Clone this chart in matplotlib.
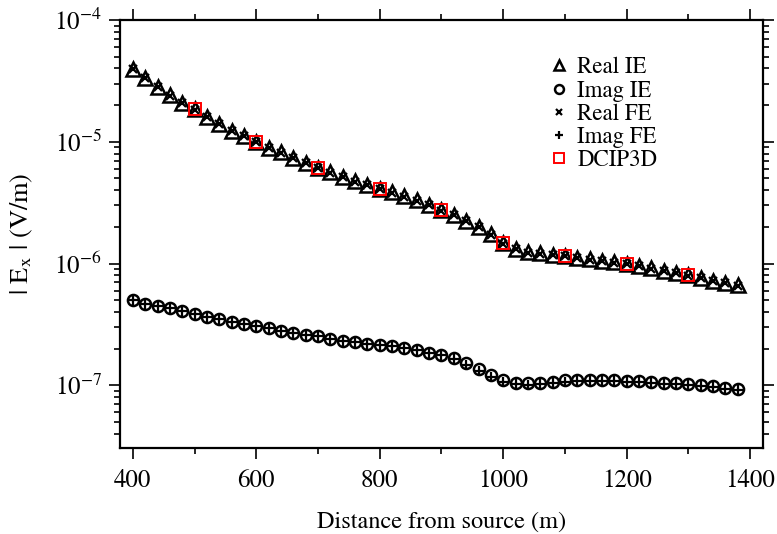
import matplotlib
matplotlib.use('Agg')
import matplotlib.pyplot as plt
from matplotlib.ticker import MultipleLocator, LogLocator, NullFormatter

plt.rcParams['font.family'] = 'STIXGeneral'
plt.rcParams['mathtext.fontset'] = 'stix'

# Distance along the profile (m)
distance = [400, 420, 440, 460, 480, 500, 520, 540, 560, 580,
            600, 620, 640, 660, 680, 700, 720, 740, 760, 780,
            800, 820, 840, 860, 880, 900, 920, 940, 960, 980,
            1000, 1020, 1040, 1060, 1080, 1100, 1120, 1140, 1160, 1180,
            1200, 1220, 1240, 1260, 1280, 1300, 1320, 1340, 1360, 1380]

# |Ex| real part, integral equation
real_ie = [3.97e-5, 3.33e-5, 2.84e-5, 2.40e-5, 2.10e-5, 1.85e-5, 1.61e-5, 1.40e-5, 1.23e-5, 1.12e-5,
           9.94e-6, 8.88e-6, 8.17e-6, 7.35e-6, 6.69e-6, 6.09e-6, 5.60e-6, 5.14e-6, 4.73e-6, 4.42e-6,
           4.10e-6, 3.84e-6, 3.56e-6, 3.30e-6, 3.05e-6, 2.74e-6, 2.51e-6, 2.24e-6, 2.00e-6, 1.75e-6,
           1.46e-6, 1.32e-6, 1.24e-6, 1.21e-6, 1.18e-6, 1.16e-6, 1.12e-6, 1.08e-6, 1.05e-6, 1.02e-6,
           1.00e-6, 9.50e-7, 9.10e-7, 8.70e-7, 8.35e-7, 8.00e-7, 7.60e-7, 7.25e-7, 6.95e-7, 6.60e-7]

# |Ex| real part, finite element
real_fe = [3.95e-5, 3.32e-5, 2.83e-5, 2.39e-5, 2.09e-5, 1.84e-5, 1.60e-5, 1.40e-5, 1.22e-5, 1.11e-5,
           9.90e-6, 8.85e-6, 8.13e-6, 7.32e-6, 6.66e-6, 6.06e-6, 5.58e-6, 5.12e-6, 4.71e-6, 4.40e-6,
           4.08e-6, 3.82e-6, 3.54e-6, 3.28e-6, 3.03e-6, 2.72e-6, 2.49e-6, 2.22e-6, 1.98e-6, 1.73e-6,
           1.45e-6, 1.31e-6, 1.23e-6, 1.20e-6, 1.17e-6, 1.15e-6, 1.11e-6, 1.07e-6, 1.04e-6, 1.01e-6,
           9.95e-7, 9.45e-7, 9.05e-7, 8.65e-7, 8.30e-7, 7.95e-7, 7.55e-7, 7.20e-7, 6.90e-7, 6.55e-7]

# |Ex| imaginary part, integral equation
imag_ie = [4.97e-7, 4.67e-7, 4.47e-7, 4.28e-7, 4.06e-7, 3.87e-7, 3.66e-7, 3.48e-7, 3.33e-7, 3.21e-7,
           3.06e-7, 2.93e-7, 2.79e-7, 2.70e-7, 2.58e-7, 2.52e-7, 2.40e-7, 2.32e-7, 2.25e-7, 2.20e-7,
           2.15e-7, 2.09e-7, 2.03e-7, 1.95e-7, 1.85e-7, 1.78e-7, 1.66e-7, 1.51e-7, 1.35e-7, 1.22e-7,
           1.10e-7, 1.05e-7, 1.04e-7, 1.05e-7, 1.07e-7, 1.10e-7, 1.10e-7, 1.10e-7, 1.10e-7, 1.10e-7,
           1.09e-7, 1.08e-7, 1.07e-7, 1.05e-7, 1.04e-7, 1.025e-7, 1.006e-7, 9.80e-8, 9.57e-8, 9.27e-8]

# |Ex| imaginary part, finite element
imag_fe = [4.97e-7, 4.67e-7, 4.47e-7, 4.28e-7, 4.06e-7, 3.87e-7, 3.66e-7, 3.48e-7, 3.33e-7, 3.21e-7,
           3.06e-7, 2.93e-7, 2.79e-7, 2.70e-7, 2.58e-7, 2.52e-7, 2.40e-7, 2.32e-7, 2.25e-7, 2.20e-7,
           2.15e-7, 2.09e-7, 2.03e-7, 1.95e-7, 1.85e-7, 1.77e-7, 1.64e-7, 1.46e-7, 1.30e-7, 1.17e-7,
           1.07e-7, 1.02e-7, 1.01e-7, 1.02e-7, 1.04e-7, 1.07e-7, 1.08e-7, 1.08e-7, 1.08e-7, 1.08e-7,
           1.07e-7, 1.06e-7, 1.05e-7, 1.03e-7, 1.02e-7, 1.005e-7, 9.85e-8, 9.60e-8, 9.40e-8, 9.10e-8]

# DCIP3D reference points
dcip_distance = [500, 600, 700, 800, 900, 1000, 1100, 1200, 1300]
dcip_value = [1.85e-5, 9.94e-6, 6.09e-6, 4.10e-6, 2.74e-6, 1.46e-6, 1.16e-6, 1.00e-6, 8.00e-7]

fig = plt.figure(figsize=(7.77, 5.34), dpi=100)
ax = fig.add_axes([0.1544, 0.161, 0.8276, 0.8015])

ax.plot(distance, real_ie, linestyle='none', marker='^', ms=9.5, mfc='none', mec='black', mew=1.8, label='Real IE')
ax.plot(distance, imag_ie, linestyle='none', marker='o', ms=8, mfc='none', mec='black', mew=1.8, label='Imag IE')
ax.plot(distance, real_fe, linestyle='none', marker='x', ms=5.5, mec='black', mew=1.6, label='Real FE')
ax.plot(distance, imag_fe, linestyle='none', marker='+', ms=7.5, mec='black', mew=1.6, label='Imag FE')
ax.plot(dcip_distance, dcip_value, linestyle='none', marker='s', ms=8.5, mfc='none', mec='red', mew=1.4, label='DCIP3D')

ax.set_yscale('log')
ax.set_xlim(379, 1421)
ax.set_ylim(3.05e-8, 1e-4)

ax.xaxis.set_major_locator(MultipleLocator(200))
ax.xaxis.set_minor_locator(MultipleLocator(100))
ax.yaxis.set_major_locator(LogLocator(base=10, numticks=10))
ax.yaxis.set_minor_locator(LogLocator(base=10, subs=range(2, 10), numticks=20))
ax.yaxis.set_minor_formatter(NullFormatter())

for s in ax.spines.values():
    s.set_linewidth(1.6)
ax.tick_params(which='both', direction='out', top=True, right=True, width=1.2, labelsize=18)
ax.tick_params(which='major', length=8)
ax.tick_params(which='minor', length=4.5)
ax.tick_params(axis='x', pad=7)
ax.tick_params(axis='y', pad=5)

ax.set_xlabel('Distance from source (m)', fontsize=17.5, labelpad=13)
ax.set_ylabel(r'| E$_\mathrm{x}$ | (V/m)', fontsize=19, labelpad=14)

ax.legend(loc='upper right', bbox_to_anchor=(0.85, 0.935), frameon=False, fontsize=16.5,
          handletextpad=0.25, labelspacing=0.08, handlelength=1.1, borderaxespad=0,
          markerscale=0.8)

fig.savefig('out.png', dpi=100)
